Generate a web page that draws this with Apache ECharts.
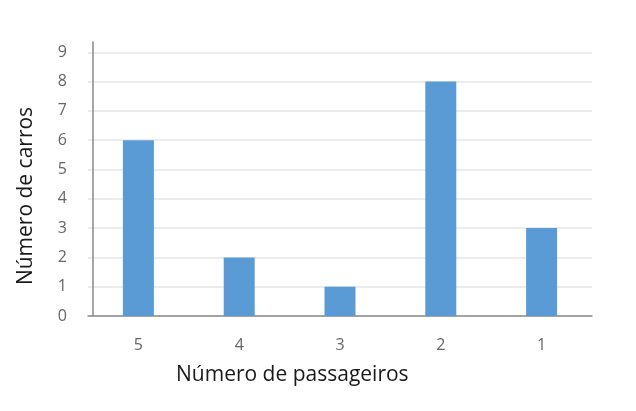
<!DOCTYPE html>
<html>
<head>
<meta charset="utf-8">
<script src="https://cdn.jsdelivr.net/npm/echarts@6/dist/echarts.min.js"></script>
<style>html,body{margin:0;padding:0;background:#fff}#c{width:636px;height:411px}</style>
</head>
<body>
<div id="c"></div>
<script>
const categories = ['5', '4', '3', '2', '1'];
const values = [6, 2, 1, 8, 3];
const yTicks = [0, 1, 2, 3, 4, 5, 6, 7, 8, 9];
const xTitle = 'Número de passageiros';
const yTitle = 'Número de carros';

const chart = echarts.init(document.getElementById('c'), null, {renderer: 'canvas'});
chart.setOption({
  animation: false,
  backgroundColor: '#ffffff',
  grid: {left: 88, width: 504, top: 42, height: 274},
  graphic: [
    {type: 'text', left: 176, top: 365,
     style: {text: xTitle, font: '21px "Open Sans"', fill: '#1a1a1a'}},
    {type: 'text', x: 16, y: 196, rotation: Math.PI / 2,
     style: {text: yTitle, font: '21px "Open Sans"', fill: '#1a1a1a', align: 'center', verticalAlign: 'top'}}
  ],
  xAxis: {
    type: 'category',
    data: categories,
    axisLine: {lineStyle: {color: '#8a8a8a', width: 1.5}},
    axisTick: {show: false},
    axisLabel: {fontFamily: 'Open Sans', fontSize: 16, color: '#666666', margin: 21}
  },
  yAxis: {
    type: 'value',
    min: 0,
    max: 9.35,
    interval: 1,
    offset: -5,
    axisLine: {show: true, lineStyle: {color: '#8a8a8a', width: 1.5}},
    axisTick: {show: false},
    axisLabel: {
      fontFamily: 'Open Sans', fontSize: 16, color: '#666666', margin: 26,
      formatter: v => yTicks.includes(v) ? String(v) : ''
    },
    splitLine: {show: true, showMaxLine: false, lineStyle: {color: '#e6e6e6', width: 1.5}}
  },
  series: [{
    type: 'bar',
    data: values,
    barWidth: 31,
    itemStyle: {color: '#5b9bd5'}
  }]
});
</script>
</body>
</html>
